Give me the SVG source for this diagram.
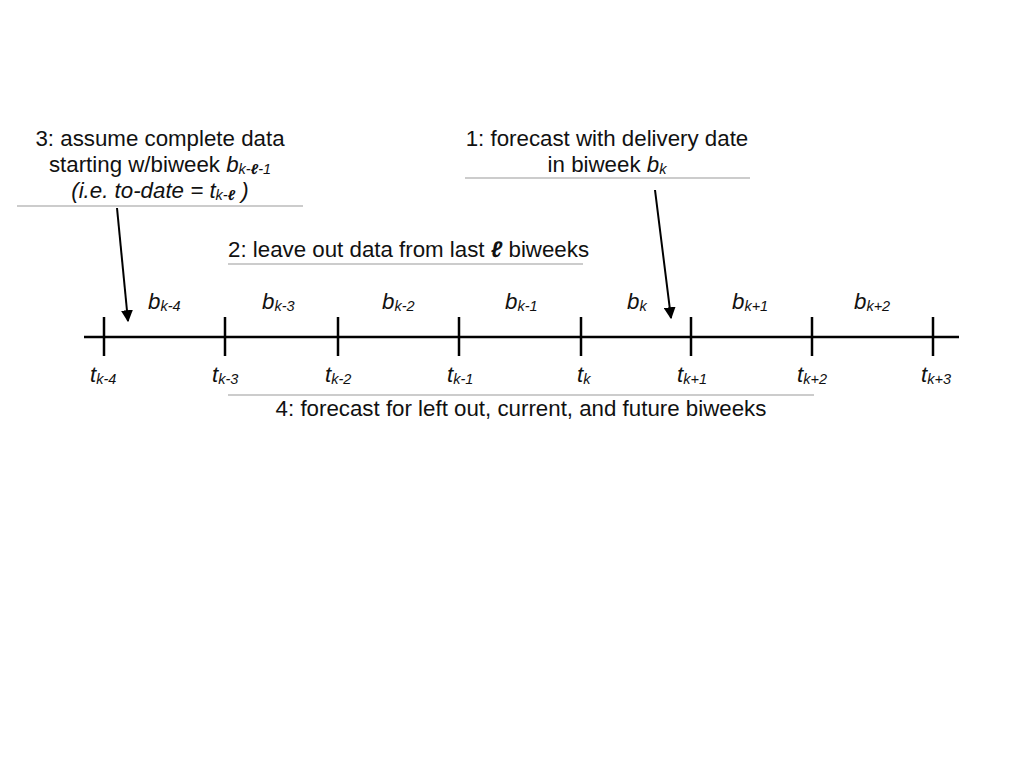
<svg xmlns="http://www.w3.org/2000/svg" width="1028" height="772" viewBox="0 0 1028 772">
<style>
text{font-family:"Liberation Sans",Arial,sans-serif;font-size:22.3px;fill:#111}
.i{font-style:italic}
.s{font-size:14.5px;font-style:italic}
.sep{stroke:#999;stroke-width:1}
.tick{stroke:#000;stroke-width:2.5}
.arr{stroke:#000;stroke-width:2;fill:none}
</style>
<defs>
<marker id="ah" viewBox="0 0 10 10" refX="9" refY="5" markerWidth="6" markerHeight="6" orient="auto" markerUnits="strokeWidth">
<path d="M0,0 L10,5 L0,10 z" fill="#000"/>
</marker>
</defs>
<rect width="1028" height="772" fill="#fff"/>
<g id="axis">
<line class="tick" x1="84" y1="337" x2="959" y2="337"/>
<line class="tick" x1="104" y1="317" x2="104" y2="356"/>
<line class="tick" x1="225" y1="317" x2="225" y2="356"/>
<line class="tick" x1="338" y1="317" x2="338" y2="356"/>
<line class="tick" x1="459" y1="317" x2="459" y2="356"/>
<line class="tick" x1="581" y1="317" x2="581" y2="356"/>
<line class="tick" x1="691" y1="317" x2="691" y2="356"/>
<line class="tick" x1="812" y1="317" x2="812" y2="356"/>
<line class="tick" x1="933" y1="317" x2="933" y2="356"/>
</g>
<g id="t-labels">
<text x="90" y="382" class="i">t<tspan class="s" dy="2">k-4</tspan></text>
<text x="212" y="382" class="i">t<tspan class="s" dy="2">k-3</tspan></text>
<text x="325" y="382" class="i">t<tspan class="s" dy="2">k-2</tspan></text>
<text x="447" y="382" class="i">t<tspan class="s" dy="2">k-1</tspan></text>
<text x="577" y="382" class="i">t<tspan class="s" dy="2">k</tspan></text>
<text x="677" y="382" class="i">t<tspan class="s" dy="2">k+1</tspan></text>
<text x="797" y="382" class="i">t<tspan class="s" dy="2">k+2</tspan></text>
<text x="921" y="382" class="i">t<tspan class="s" dy="2">k+3</tspan></text>
</g>
<g id="b-labels">
<text x="148" y="309" class="i">b<tspan class="s" dy="2">k-4</tspan></text>
<text x="262" y="309" class="i">b<tspan class="s" dy="2">k-3</tspan></text>
<text x="382" y="309" class="i">b<tspan class="s" dy="2">k-2</tspan></text>
<text x="505" y="309" class="i">b<tspan class="s" dy="2">k-1</tspan></text>
<text x="627" y="309" class="i">b<tspan class="s" dy="2">k</tspan></text>
<text x="732" y="309" class="i">b<tspan class="s" dy="2">k+1</tspan></text>
<text x="854" y="309" class="i">b<tspan class="s" dy="2">k+2</tspan></text>
</g>
<g id="note3">
<text x="160" y="146" text-anchor="middle">3: assume complete data</text>
<text x="160" y="172" text-anchor="middle">starting w/biweek <tspan class="i">b</tspan><tspan class="s" dy="2">k-<tspan font-weight="bold">ℓ</tspan>-1</tspan></text>
<text x="160" y="198" text-anchor="middle" class="i">(i.e. to-date = t<tspan class="s" dy="2">k-<tspan font-weight="bold">ℓ</tspan></tspan><tspan dy="-2"> )</tspan></text>
<line class="sep" x1="17" y1="206" x2="303" y2="206"/>
</g>
<g id="note1">
<text x="607" y="146" text-anchor="middle">1: forecast with delivery date</text>
<text x="607" y="172" text-anchor="middle">in biweek <tspan class="i">b</tspan><tspan class="s" dy="2">k</tspan></text>
<line class="sep" x1="465" y1="178" x2="750" y2="178"/>
</g>
<g id="note2">
<text x="228" y="257">2: leave out data from last <tspan class="i" font-weight="bold">ℓ</tspan> biweeks</text>
<line class="sep" x1="228" y1="264" x2="583" y2="264"/>
</g>
<g id="note4">
<line class="sep" x1="228" y1="395" x2="814" y2="395"/>
<text x="521" y="416" text-anchor="middle">4: forecast for left out, current, and future biweeks</text>
</g>
<g id="connectors">
<line class="arr" x1="117" y1="208" x2="128" y2="321" marker-end="url(#ah)"/>
<line class="arr" x1="655" y1="190" x2="671" y2="318" marker-end="url(#ah)"/>
</g>
</svg>
